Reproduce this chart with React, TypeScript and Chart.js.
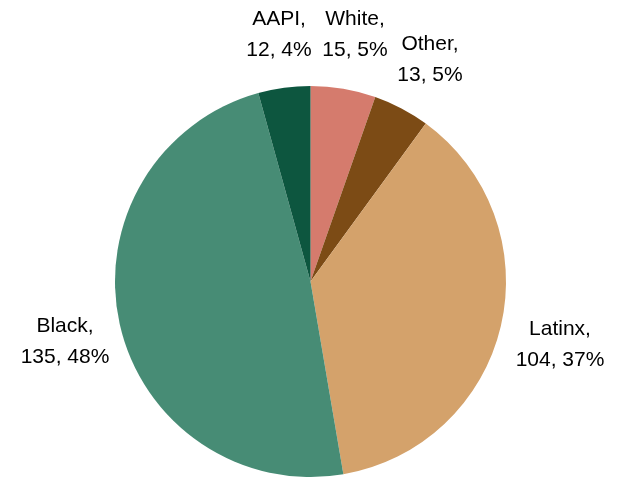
import React, { useEffect, useRef } from "react";
import { Chart, registerables } from "chart.js";

Chart.register(...registerables);

const categories = ["White", "Other", "Latinx", "Black", "AAPI"];
const counts = [15, 13, 104, 135, 12];
const percents = ["5%", "5%", "37%", "48%", "4%"];
const colors = ["#D57B6D", "#7C4B15", "#D4A26B", "#478C75", "#0D563F"];

// label placement relative to pie centre (dx, dy of first-line baseline)
const labelOffsets: [number, number][] = [
  [44.5, -256.5],
  [119.5, -231.5],
  [249.5, 53.5],
  [-245.5, 50.5],
  [-31.5, -256.5],
];

const labelPlugin = {
  id: "pieLabels",
  afterDatasetsDraw(chart: any) {
    const meta = chart.getDatasetMeta(0);
    const ctx = chart.ctx;
    ctx.save();
    ctx.font = "21px 'Liberation Sans', Arial, sans-serif";
    ctx.fillStyle = "#000000";
    ctx.textAlign = "center";
    ctx.textBaseline = "alphabetic";
    meta.data.forEach((arc: any, i: number) => {
      const cx = arc.x + labelOffsets[i][0];
      const cy = arc.y + labelOffsets[i][1];
      ctx.fillText(categories[i] + ",", cx, cy);
      ctx.fillText(counts[i] + ", " + percents[i], cx, cy + 31);
    });
    ctx.restore();
  },
};

export default function App() {
  const ref = useRef<HTMLCanvasElement>(null);
  useEffect(() => {
    if (!ref.current) return;
    const chart = new Chart(ref.current, {
      type: "pie",
      data: {
        labels: categories,
        datasets: [
          {
            data: counts,
            backgroundColor: colors,
            borderWidth: 0,
          },
        ],
      },
      options: {
        animation: false,
        responsive: false,
        maintainAspectRatio: false,
        layout: { padding: { top: 86, bottom: 0, left: 0, right: 5 } },
        plugins: {
          legend: { display: false },
          tooltip: { enabled: false },
        },
      },
      plugins: [labelPlugin],
    });
    return () => chart.destroy();
  }, []);
  return (
    <div style={{ position: "fixed", left: 0, top: 0, width: 626, height: 477, background: "#fff" }}>
      <canvas ref={ref} width={626} height={477} style={{ width: 626, height: 477 }} />
    </div>
  );
}
